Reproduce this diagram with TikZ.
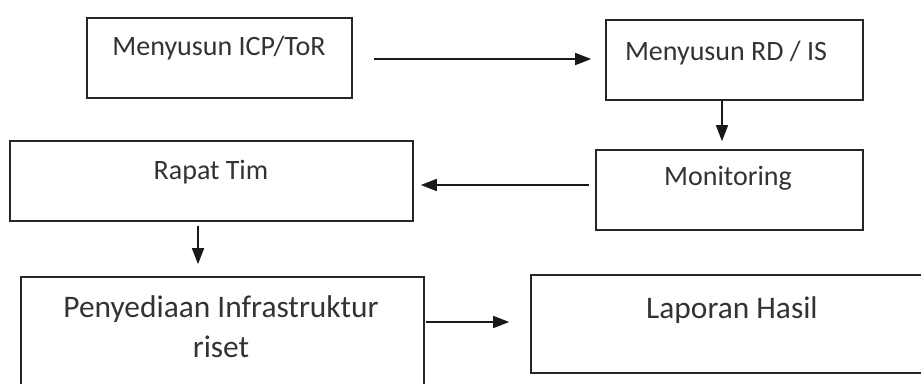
\documentclass[tikz,border=0pt]{standalone}
\usepackage{fontspec}
\setmainfont{Carlito}
\usetikzlibrary{arrows.meta,calc}
\begin{document}
\begin{tikzpicture}[x=1pt,y=-1pt,
  box/.style={draw=black!85,line width=1.6pt,rectangle,inner sep=0pt},
  lbl/.style={inner sep=0pt,anchor=base,text=black!80,font=\fontsize{28}{34}\selectfont},
  lblbig/.style={inner sep=0pt,text=black!80,font=\fontsize{31.4}{40}\selectfont,align=center},
  arr/.style={line width=1.6pt,draw=black!90,-{Triangle[length=16pt,width=12pt]}}]
\useasboundingbox[fill=white] (0,0) rectangle (921,383);
% boxes
\node[box,minimum width=265,minimum height=80] (icp) at (219.5,58) {};
\node[box,minimum width=257,minimum height=80] (rd) at (734.5,60) {};
\node[box,minimum width=267,minimum height=80] (mon) at (729.5,190) {};
\node[box,minimum width=403,minimum height=80] (rapat) at (211.5,181) {};
\node[box,minimum width=403,minimum height=130] (peny) at (222.5,342) {};
\node[box,minimum width=394,minimum height=98] (lap) at (728,324) {};
% texts
\node[lbl] (icpt) at (219,55) {Menyusun ICP/ToR};
\node[lbl] (rdt) at (726,60) {Menyusun RD / IS};
\node[lbl] (mont) at (728,185) {Monitoring};
\node[lbl] (rapatt) at (211,179) {Rapat Tim};
\node[lblbig,anchor=base] (penyt) at (221,357) {Penyediaan Infrastruktur\\riset};
\node[lblbig,anchor=base] (lapt) at (732,318) {Laporan Hasil};
% connectors
\draw[arr] ($(icp.east)+(21,1)$) -- ($(rd.west)+(-14,-1)$);
\draw[arr] ($(rd.south)+(-12.5,0)$) -- ($(mon.north)+(-7.5,-8)$);
\draw[arr] ($(mon.west)+(-6,-5)$) -- ($(rapat.east)+(7,4)$);
\draw[arr] ($(rapat.south)+(-13.5,4)$) -- ($(peny.north)+(-24.5,-12)$);
\draw[arr] ($(peny.east)+(1.5,-20)$) -- ($(lap.west)+(-21,-2)$);
\end{tikzpicture}
\end{document}
